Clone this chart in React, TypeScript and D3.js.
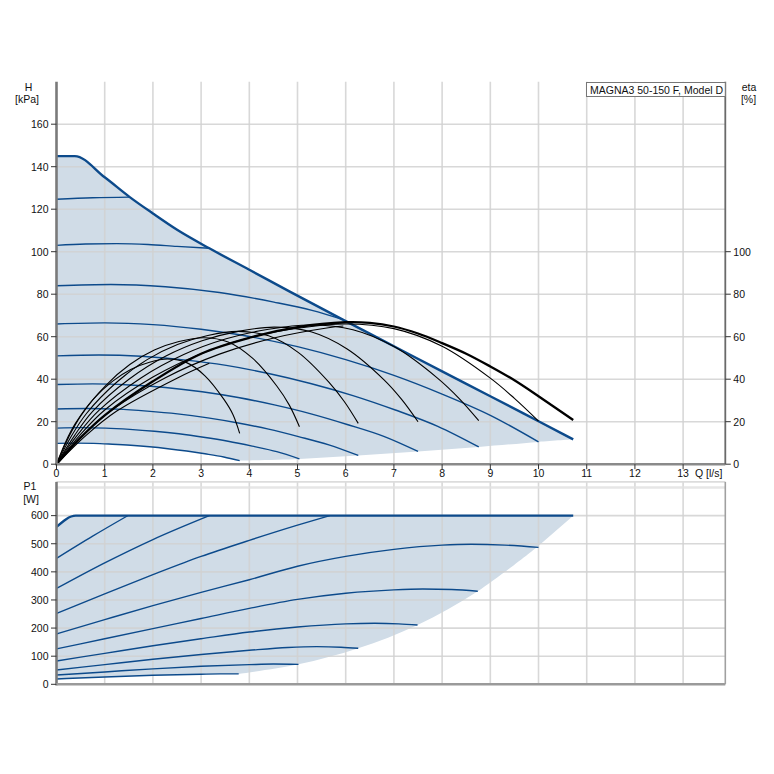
import React from 'react';
import * as d3 from 'd3';

// ---------- data ----------
const qTicks = [0, 1, 2, 3, 4, 5, 6, 7, 8, 9, 10, 11, 12, 13];
const hTicks = [0, 20, 40, 60, 80, 100, 120, 140, 160];
const etaTicks = [0, 20, 40, 60, 80, 100];
const pTicks = [0, 100, 200, 300, 400, 500, 600];
const pGrid = [100, 200, 300, 400, 500, 600, 700];
const legendText = 'MAGNA3 50-150 F, Model D';

// head curves (Q in l/s, H in kPa)
const hMaxQ = [0, 0.38, 1.0, 1.52, 2.0, 2.51, 3.17, 4.0, 4.84, 5.95, 7.0, 8.0, 9.0, 10.0, 10.72];
const hMaxH = [145, 145, 135, 125.7, 118, 110.2, 101.6, 91.5, 81.2, 67.9, 55.5, 43.7, 32.0, 20.2, 11.7];
const h125Q = [0, 0.75, 1.52];
const h125H = [124.7, 125.4, 125.7];
const h103Q = [0, 0.6, 1.25, 1.9, 2.5, 3.17];
const h103H = [103, 103.6, 103.8, 103.4, 102.5, 101.6];
const h84Q = [0, 1.13, 2.26, 3.38, 4.51, 5.3, 5.95];
const h84H = [84, 84.6, 83.5, 80.8, 76.3, 72.4, 68.0];
const h66Q = [0, 1, 2, 3, 4, 5, 6, 7, 8, 9, 10];
const h66H = [66, 66.5, 65.7, 63.5, 60.1, 55.3, 49.2, 41.8, 33.0, 23.0, 10.5];
const h51Q = [0, 0.88, 1.76, 2.64, 3.52, 4.4, 5.27, 6.15, 7.03, 7.91, 8.76];
const h51H = [51.0, 51.4, 50.8, 49.1, 46.5, 42.7, 38.0, 32.3, 25.5, 17.8, 8.1];
const h37Q = [0, 0.75, 1.51, 2.26, 3.02, 3.77, 4.52, 5.28, 6.03, 6.79, 7.5];
const h37H = [37.5, 37.8, 37.3, 36.1, 34.1, 31.4, 27.9, 23.7, 18.7, 13.1, 6.0];
const h26Q = [0, 0.63, 1.26, 1.88, 2.51, 3.14, 3.77, 4.4, 5.02, 5.65, 6.26];
const h26H = [26.0, 26.2, 25.9, 25.0, 23.7, 21.8, 19.4, 16.5, 13.0, 9.1, 4.1];
const h17Q = [0, 0.51, 1.02, 1.52, 2.03, 2.54, 3.05, 3.56, 4.06, 4.57, 5.04];
const h17H = [17.0, 17.2, 17.0, 16.4, 15.5, 14.3, 12.7, 10.8, 8.5, 5.9, 2.5];
const h10Q = [0, 0.39, 0.77, 1.16, 1.54, 1.93, 2.31, 2.7, 3.08, 3.47, 3.8];
const h10H = [9.8, 9.9, 9.8, 9.4, 8.9, 8.2, 7.3, 6.2, 4.9, 3.4, 1.7];
// lower limit of operating range (ends of the speed curves)
const hMinQ = [10.72, 10.0, 8.76, 7.5, 6.26, 5.04, 3.8];
const hMinH = [11.7, 10.5, 8.1, 6.0, 4.1, 2.5, 1.7];

// efficiency curves (eta %)
const etaMaxQ = [0, 0.5, 1, 2, 3, 4, 5, 6, 6.5, 7, 7.5, 8, 8.5, 9, 9.5, 10, 10.72];
const etaMaxE = [0, 12.5, 23, 39, 52, 59.5, 64.5, 66.8, 66.5, 64.8, 61.5, 57, 52, 46, 39.5, 32, 20.8];
const eta103Q = [0, 0.62, 1.25, 2.5, 3.17];
const eta103E = [0, 13.7, 25, 40.5, 47.5];
const eta84Q = [0, 0.56, 1.13, 2.26, 3.38, 4.51, 5.64, 5.95];
const eta84E = [0, 13.8, 25.2, 40.7, 51.8, 59.4, 64.2, 65.0];
const eta66Q = [0, 0.5, 1, 2, 3, 4, 5, 6, 7, 8, 9, 9.5, 10];
const eta66E = [0, 14, 25.5, 41, 52, 59.5, 64, 66, 63.8, 55.5, 40.5, 31, 20.3];
const eta51Q = [0, 0.44, 0.88, 1.76, 2.64, 3.52, 4.4, 5.27, 6.15, 7.03, 7.91, 8.35, 8.76];
const eta51E = [0, 13.9, 25.3, 40.7, 51.6, 59.0, 63.5, 65.5, 63.3, 55.0, 40.4, 31.0, 20.5];
const eta37Q = [0, 0.38, 0.75, 1.51, 2.26, 3.02, 3.77, 4.52, 5.28, 6.03, 6.79, 7.16, 7.5];
const eta37E = [0, 13.7, 24.9, 40.1, 50.8, 58.1, 62.5, 64.5, 62.3, 54.2, 39.8, 30.5, 20.0];
const eta26Q = [0, 0.31, 0.63, 1.26, 1.88, 2.51, 3.14, 3.77, 4.4, 5.02, 5.65, 5.97, 6.26];
const eta26E = [0, 13.3, 24.1, 38.8, 49.2, 56.3, 60.6, 62.5, 60.4, 52.5, 38.6, 29.5, 19.2];
const eta17Q = [0, 0.25, 0.51, 1.02, 1.52, 2.03, 2.54, 3.05, 3.56, 4.06, 4.57, 4.83, 5.04];
const eta17E = [0, 12.6, 23.0, 37.0, 46.9, 53.7, 57.7, 59.5, 57.5, 50.0, 36.8, 27.8, 17.6];
const eta10Q = [0, 0.19, 0.39, 0.77, 1.16, 1.54, 1.93, 2.31, 2.7, 3.08, 3.47, 3.66, 3.8];
const eta10E = [0, 10.5, 19.1, 30.8, 39, 44.6, 48, 49.5, 47.8, 41.6, 30.6, 23.4, 14.5];

// power curves (P1 in W)
const pMaxQ = [0, 0.4, 10.72];
const pMaxP = [560, 600, 600];
const p125Q = [0, 0.75, 1.48];
const p125P = [448, 527, 600];
const p103Q = [0, 1, 2, 3.17];
const p103P = [341, 432, 515, 600];
const p84Q = [0, 1, 2, 3, 4, 5, 5.67];
const p84P = [252, 322, 390, 455, 512, 566, 600];
const p66Q = [0, 1, 2, 3, 4, 5, 6, 7, 8, 8.6, 9.3, 10];
const p66P = [179, 230, 280, 327, 372, 420, 455, 480, 495, 498, 495, 487];
const p51Q = [0, 1, 2, 3, 4, 5, 6, 7, 7.6, 8.2, 8.74];
const p51P = [126, 162, 198, 234, 270, 302, 324, 336, 339, 337, 331];
const p37Q = [0, 1, 2, 3, 4, 5, 6, 6.6, 7.1, 7.49];
const p37P = [83, 110, 137, 162, 186, 204, 215, 217, 215, 211];
const p26Q = [0, 1, 2, 3, 4, 4.8, 5.4, 5.9, 6.26];
const p26P = [51, 70, 89, 106, 121, 131, 134, 132, 128];
const p17Q = [0, 1, 2, 3, 4, 4.5, 5.02];
const p17P = [33, 44, 55, 64, 70, 72, 71];
const p10Q = [0, 1, 2, 3, 3.4, 3.78];
const p10P = [19, 26, 32, 36, 37, 37];
const pMinQ = [10.72, 9.96, 8.74, 7.49, 6.26, 5.02, 3.78];
const pMinP = [600, 487, 331, 211, 128, 71, 37];

// ---------- layout ----------
const FONT = '"Liberation Sans", Arial, sans-serif';
const FS = 10.5;
const BLUE = '#0c4a8b';
const FILL = '#d0dce7';
const GRID = '#d2d2d2';

const x = d3.scaleLinear().domain([0, 13.875]).range([56.5, 725.3]);
const yH = d3.scaleLinear().domain([0, 180]).range([464.2, 81.7]);
const yP = d3.scaleLinear().domain([0, 720]).range([684.3, 481.9]);

type Pt = [number, number];
const pts = (qs: number[], vs: number[], y: d3.ScaleLinear<number, number>): Pt[] =>
  qs.map((q, i) => [x(q), y(vs[i])] as Pt);
const smooth = d3.line().curve(d3.curveMonotoneX);
const natural = d3.line().curve(d3.curveCatmullRom.alpha(0.5));
const smoothAny = d3.line().curve(d3.curveCatmullRom.alpha(0.5));
const path = (qs: number[], vs: number[], y: d3.ScaleLinear<number, number>) =>
  smooth(pts(qs, vs, y)) || '';
const arc = (qs: number[], vs: number[], y: d3.ScaleLinear<number, number>) =>
  natural(pts(qs, vs, y)) || '';

function regionPath(
  topQ: number[], topV: number[], minQ: number[], minV: number[],
  lowQ: number[], lowV: number[], y: d3.ScaleLinear<number, number>
) {
  const a = smooth(pts(topQ, topV, y)) || '';
  const b = (smoothAny(pts(minQ, minV, y)) || '').replace(/^M/, 'L');
  const lowPts = pts(lowQ, lowV, y).reverse();
  const c = (smoothAny(lowPts) || '').replace(/^M/, 'L');
  return `M${x(0)},${y(lowV[0])}L` + a.slice(1) + b + c + 'Z';
}

const hCurves = [
  [h125Q, h125H], [h103Q, h103H], [h84Q, h84H], [h66Q, h66H], [h51Q, h51H],
  [h37Q, h37H], [h26Q, h26H], [h17Q, h17H], [h10Q, h10H],
];
const etaCurves = [
  [eta103Q, eta103E], [eta84Q, eta84E],
  [eta66Q, eta66E], [eta51Q, eta51E], [eta37Q, eta37E], [eta26Q, eta26E],
  [eta17Q, eta17E], [eta10Q, eta10E],
];
const pCurves = [
  [p125Q, p125P], [p103Q, p103P], [p84Q, p84P], [p66Q, p66P], [p51Q, p51P],
  [p37Q, p37P], [p26Q, p26P], [p17Q, p17P], [p10Q, p10P],
];

export default function App() {
  const xL = x(0), xR = x(13.875);
  const topFill = regionPath(hMaxQ, hMaxH, hMinQ, hMinH, h10Q, h10H, yH);
  const botFill = regionPath(pMaxQ, pMaxP, pMinQ.slice(1), pMinP.slice(1), p10Q, p10P, yP);
  return (
    <svg width={774} height={774} style={{ position: 'absolute', left: 0, top: 0, background: '#fff' }}
      fontFamily={FONT} fontSize={FS}>
      <rect x={0} y={0} width={774} height={774} fill="#fff" />
      {/* ----- top chart ----- */}
      <path d={topFill} fill={FILL} stroke="none" />
      {qTicks.slice(1).map(q => (
        <line key={'vg' + q} x1={x(q)} x2={x(q)} y1={yH(180)} y2={yH(0)} stroke={GRID} strokeWidth={1.6} opacity={0.85} />
      ))}
      {hTicks.slice(1).map(v => (
        <line key={'hg' + v} x1={xL} x2={xR} y1={yH(v)} y2={yH(v)} stroke={GRID} strokeWidth={1.6} opacity={0.85} />
      ))}
      {hCurves.map(([qs, vs], i) => (
        <path key={'hc' + i} d={path(qs, vs, yH)} fill="none" stroke={BLUE} strokeWidth={1.4} />
      ))}
      <path d={path(hMaxQ, hMaxH, yH)} fill="none" stroke={BLUE} strokeWidth={2.4} strokeLinejoin="round" />
      {etaCurves.map(([qs, vs], i) => (
        <path key={'ec' + i} d={arc(qs, vs, yH)} fill="none" stroke="#000" strokeWidth={1.1} />
      ))}
      <path d={arc(etaMaxQ, etaMaxE, yH)} fill="none" stroke="#000" strokeWidth={2.3} />
      {/* axes */}
      <line x1={xL} x2={xL} y1={yH(180)} y2={yH(0) + 1} stroke="#7a7a7a" strokeWidth={2.6} />
      <line x1={xL - 1} x2={xR} y1={yH(0)} y2={yH(0)} stroke="#8a8a8a" strokeWidth={2.6} />
      <line x1={xR} x2={xR} y1={yH(180)} y2={yH(0)} stroke="#6a6a6a" strokeWidth={1.8} />
      {hTicks.map(v => (
        <g key={'ht' + v}>
          <line x1={xL - 5.5} x2={xL} y1={yH(v)} y2={yH(v)} stroke="#333" strokeWidth={1} />
          <text x={xL - 8} y={yH(v) + 3.8} textAnchor="end" fill="#111">{v}</text>
        </g>
      ))}
      {etaTicks.map(v => (
        <g key={'et' + v}>
          <line x1={xR} x2={xR + 5.5} y1={yH(v)} y2={yH(v)} stroke="#333" strokeWidth={1} />
          <text x={xR + 8} y={yH(v) + 3.8} textAnchor="start" fill="#111">{v}</text>
        </g>
      ))}
      {qTicks.map(q => (
        <g key={'qt' + q}>
          <line x1={x(q)} x2={x(q)} y1={yH(0)} y2={yH(0) + 5} stroke="#333" strokeWidth={1} />
          <text x={x(q)} y={477} textAnchor="middle" fill="#111">{q}</text>
        </g>
      ))}
      <text x={695} y={477} fill="#111">Q [l/s]</text>
      <text x={28.5} y={91} textAnchor="middle" fill="#111">H</text>
      <text x={27} y={102.5} textAnchor="middle" fill="#111">[kPa]</text>
      <text x={749} y={91} textAnchor="middle" fill="#111">eta</text>
      <text x={748.5} y={102.5} textAnchor="middle" fill="#111">[%]</text>
      <rect x={586.5} y={82.5} width={xR - 586.5} height={14} fill="#fff" stroke="#777" strokeWidth={1} />
      <text x={590} y={93.5} fill="#111">{legendText}</text>

      {/* ----- bottom chart ----- */}
      <path d={botFill} fill={FILL} stroke="none" />
      {qTicks.slice(1).map(q => (
        <line key={'vg2' + q} x1={x(q)} x2={x(q)} y1={yP(720)} y2={yP(0)} stroke={GRID} strokeWidth={1.6} opacity={0.85} />
      ))}
      {pGrid.map(v => (
        <line key={'pg' + v} x1={xL} x2={xR} y1={yP(v)} y2={yP(v)} stroke={v === 700 ? '#e2e2e2' : GRID} strokeWidth={v === 700 ? 2.4 : 1.6} opacity={0.85} />
      ))}
      <line x1={xL} x2={xR} y1={yP(720)} y2={yP(720)} stroke="#dcdcdc" strokeWidth={1.6} />
      {pCurves.map(([qs, vs], i) => (
        <path key={'pc' + i} d={path(qs, vs, yP)} fill="none" stroke={BLUE} strokeWidth={1.4} />
      ))}
      <path d={path(pMaxQ, pMaxP, yP)} fill="none" stroke={BLUE} strokeWidth={2.4} />
      <line x1={xL} x2={xL} y1={yP(720)} y2={yP(0) + 1} stroke="#7a7a7a" strokeWidth={2.6} />
      <line x1={xL - 1} x2={xR} y1={yP(0)} y2={yP(0)} stroke="#9a9a9a" strokeWidth={2.6} />
      <line x1={xR} x2={xR} y1={yP(720)} y2={yP(0)} stroke="#a0a0a0" strokeWidth={1.6} />
      {pTicks.map(v => (
        <g key={'pt' + v}>
          <line x1={xL - 5.5} x2={xL} y1={yP(v)} y2={yP(v)} stroke="#333" strokeWidth={1} />
          <text x={xL - 8} y={yP(v) + 3.8} textAnchor="end" fill="#111">{v}</text>
        </g>
      ))}
      <text x={30} y={490} textAnchor="middle" fill="#111">P1</text>
      <text x={31} y={502.5} textAnchor="middle" fill="#111">[W]</text>
    </svg>
  );
}
